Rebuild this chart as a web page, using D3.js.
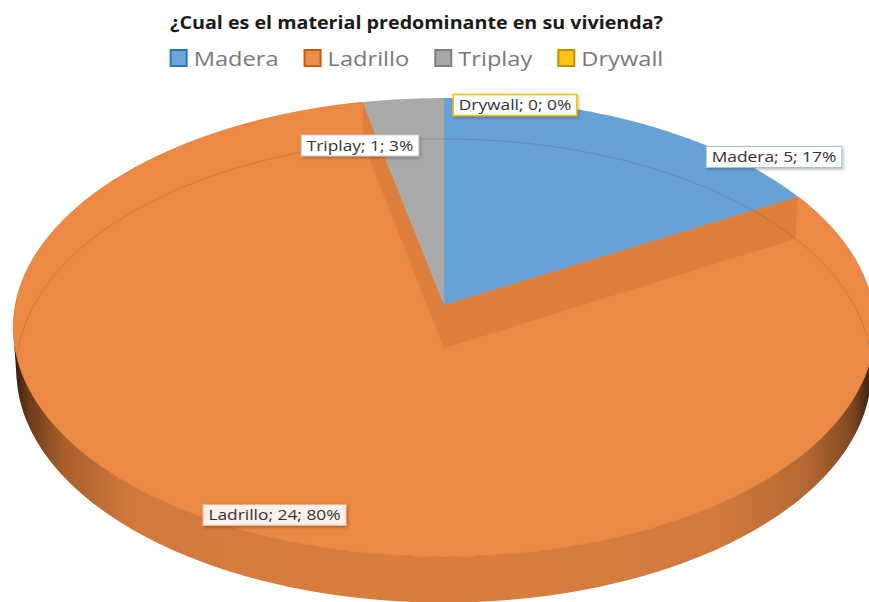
<!DOCTYPE html>
<html><head><meta charset="utf-8">
<script src="https://cdn.jsdelivr.net/npm/d3@7"></script>
<style>body{margin:0;background:#fff;overflow:hidden}</style>
</head><body><svg id="c" width="869" height="602"></svg>
<script>
// ---- data ----
const categories = ["Madera", "Ladrillo", "Triplay", "Drywall"];
const values = [5, 24, 1, 0];
const titleText = "¿Cual es el material predominante en su vivienda?";

// ---- styles / layout ----
const topColors   = ["#68A1D6", "#EC8945", "#A9A9A9", "#FFC000"];
const faceColors  = ["#4F86BE", "#DE7E3D", "#8E8E8E", "#D9A300"];
const legendFill  = ["#6FA6DA", "#F08C4C", "#A8A8A8", "#FFC21A"];
const legendStroke= ["#2E75B6", "#C55A11", "#7F7F7F", "#BF9000"];
const labelStroke = ["#9DC3E6", "#F4B183", "#C9C9C9", "#FFC000"];
const labelFill   = ["#FFFFFF", "#FCF1EA", "#FFFFFF", "#FFFFFF"];
const labelCenter = [[774, 157], [274.5, 515], [360, 145.5], [515, 105]];

const svg = d3.select("#c");
const defs = svg.append("defs");
const sh = defs.append("filter").attr("id","sh").attr("x","-20%").attr("y","-40%").attr("width","150%").attr("height","200%");
sh.append("feDropShadow").attr("dx",1.2).attr("dy",1.5).attr("stdDeviation",1.4).attr("flood-color","#000").attr("flood-opacity",0.28);

const FONT = "'Open Sans', 'Liberation Sans', sans-serif";

// ---- title, with width stretch ----
const title = svg.append("text").attr("x", 416.5).attr("y", 29)
  .attr("text-anchor","middle").attr("font-family",FONT).attr("font-weight","bold")
  .attr("font-size",17).attr("fill","#1a1a1a").text(titleText);
const tW = title.node().getComputedTextLength();
const SX = 493 / tW;
title.attr("textLength", 493).attr("lengthAdjust","spacingAndGlyphs");

// ---- legend ----
const legend = svg.append("g");
let lx = 0;
categories.forEach((c,i)=>{
  const g = legend.append("g");
  g.append("rect").attr("x",lx+1).attr("y",50).attr("width",16).attr("height",16)
    .attr("fill",legendFill[i]).attr("stroke",legendStroke[i]).attr("stroke-width",2);
  const t = g.append("text").attr("x",lx+24).attr("y",65.5).attr("font-family",FONT)
    .attr("font-size",20).attr("fill","#7A7A7A").text(c);
  const w = t.node().getComputedTextLength()*SX*1.02;
  t.attr("textLength",w).attr("lengthAdjust","spacingAndGlyphs");
  lx += 24 + w + 25;
});
const legW = lx - 25;
legend.attr("transform",`translate(${416.5 - legW/2},0)`);

// ---- 3D perspective pie ----
const P = {x0:444, y0:305, f:3725, D:8.69, phi:32*Math.PI/180, h:0.12};
const sP = Math.sin(P.phi), cP = Math.cos(P.phi);
function proj(theta, r, Y){
  const X = r*Math.sin(theta), Z = r*Math.cos(theta);
  const py = Y - P.D*sP, pz = Z + P.D*cP;
  const depth = -py*sP + pz*cP;
  const ys = py*cP + pz*sP;
  return [P.x0 + P.f*X/depth, P.y0 - P.f*ys/depth];
}
function arcPts(a0, a1, Y, n){
  const pts = [];
  const N = n || Math.max(2, Math.ceil(Math.abs(a1-a0)/(Math.PI/180)));
  for (let k=0;k<=N;k++) pts.push(proj(a0+(a1-a0)*k/N, 1, Y));
  return pts;
}
const line = d3.line();
const arcs = d3.pie().sort(null).value(d=>d)(values);
const total = d3.sum(values);
const H = -P.h;

const pie = svg.append("g");

// gradient for the outer wall
const grad = defs.append("linearGradient").attr("id","wall").attr("gradientUnits","userSpaceOnUse")
  .attr("x1",12).attr("x2",876).attr("y1",0).attr("y2",0);
[[0,"#2e1808"],[0.02,"#6e3c1a"],[0.06,"#a85f2c"],[0.14,"#d27a3d"],[0.5,"#d97f40"],[0.82,"#d27a3e"],[0.92,"#b46832"],[0.97,"#824a22"],[1,"#2e1808"]]
  .forEach(([o,c])=>grad.append("stop").attr("offset",o).attr("stop-color",c));

// silhouette range of outer wall
const tMin = Math.acos(-1/(P.D*cP));
const tMax = 2*Math.PI - tMin;

// outer walls (front-facing)
arcs.forEach((a,i)=>{
  if (a.endAngle - a.startAngle <= 0) return;
  const t0 = Math.max(a.startAngle, tMin), t1 = Math.min(a.endAngle, tMax);
  if (t1 <= t0) return;
  const pts = arcPts(t0,t1,0).concat(arcPts(t1,t0,H));
  pie.append("path").attr("d", line(pts)+"Z").attr("fill", i===1 ? "url(#wall)" : faceColors[i]);
});

function topSector(i){
  const a = arcs[i];
  if (a.endAngle - a.startAngle <= 0) return;
  const pts = [proj(0,0,0)].concat(arcPts(a.startAngle,a.endAngle,0));
  pie.append("path").attr("d", line(pts)+"Z").attr("fill", topColors[i])
    .attr("stroke", i===1 ? "#cf6a2a" : "none").attr("stroke-width",0.8).attr("stroke-opacity",0.7);
}
function cutFace(i, ang){
  const pts = [proj(0,0,0), proj(ang,1,0), proj(ang,1,H), proj(0,0,H)];
  pie.append("path").attr("d", line(pts)+"Z").attr("fill", faceColors[i]).attr("fill-opacity",0.95);
}
topSector(1);
cutFace(1, arcs[1].startAngle);
cutFace(1, arcs[1].endAngle);
topSector(0);
topSector(2);
topSector(3);

// faint bottom rim seen through the translucent top
pie.append("path").attr("d", line(arcPts(-tMin, tMin, H, 300)))
  .attr("fill","none").attr("stroke","#000").attr("stroke-opacity",0.12).attr("stroke-width",1);

// ---- data labels ----
categories.forEach((c,i)=>{
  const pct = Math.round(values[i]/total*100);
  const txt = `${c}; ${values[i]}; ${pct}%`;
  const g = svg.append("g").attr("transform",`translate(${labelCenter[i][0]},${labelCenter[i][1]})`);
  const r = g.append("rect");
  const t = g.append("text").attr("text-anchor","middle").attr("y",5)
    .attr("font-family",FONT).attr("font-size",14).attr("fill","#333").text(txt);
  const w = t.node().getComputedTextLength()*SX*1.07;
  t.attr("textLength",w).attr("lengthAdjust","spacingAndGlyphs");
  r.attr("x",-w/2-5.5).attr("y",-10.5).attr("width",w+11).attr("height",21)
   .attr("fill",labelFill[i]).attr("stroke",labelStroke[i]).attr("stroke-width", i===3?1.6:1)
   .attr("filter","url(#sh)");
});
</script></body></html>
